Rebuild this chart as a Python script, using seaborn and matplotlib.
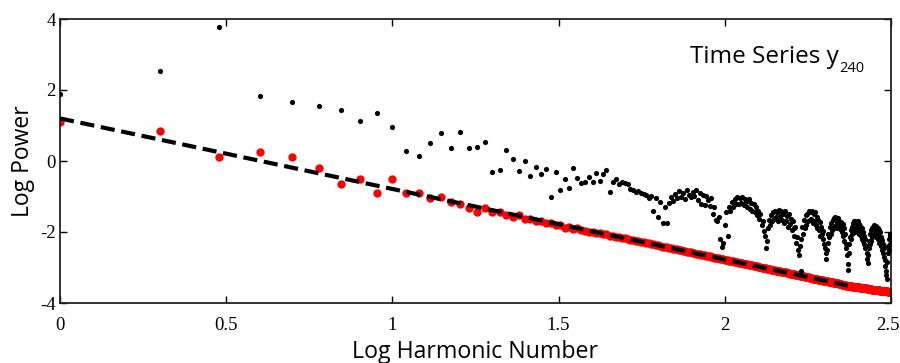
import numpy as np
import pandas as pd
import matplotlib
matplotlib.use("Agg")
import matplotlib.pyplot as plt
import matplotlib.transforms as mtransforms
import seaborn as sns

# Harmonic numbers (x axis shows log10 of these)
harmonic = list(range(1, 317))

# Log power of the time series (black dots)
black_power = [
    1.90, 2.54, 3.77, 1.83, 1.66, 1.55, 1.44, 1.13, 1.35, 0.97,
    0.28, 0.14, 0.51, 0.79, 0.37, 0.83, 0.37, 0.39, 0.54, -0.31,
    -0.25, 0.31, 0.06, -0.27, 0.00, -0.42, -0.17, -0.36, -0.23, -1.00,
    -0.30, -0.82, -0.51, -0.77, -0.20, -0.47, -0.62, -0.60, -0.44, -0.59,
    -0.33, -0.57, -0.36, -0.26, -0.86, -0.58, -0.51, -0.64, -0.58, -0.63,
    -0.66, -0.80, -0.83, -0.86, -0.84, -0.90, -0.93, -0.97, -1.05, -0.98,
    -1.40, -1.05, -1.57, -1.15, -1.75, -1.30, -1.76, -1.19, -1.02, -1.12,
    -0.92, -1.05, -0.85, -1.00, -0.90, -1.08, -0.83, -0.95, -1.02, -0.86,
    -0.98, -0.82, -1.10, -0.90, -1.20, -0.95, -1.25, -0.98, -1.10, -1.28,
    -1.05, -1.48, -1.30, -1.66, -1.70, -1.58, -2.20, -2.42, -2.30, -1.80,
    -1.45, -2.10, -1.30, -1.42, -1.15, -1.30, -1.08, -1.22, -1.02, -1.20,
    -1.05, -1.18, -1.00, -1.25, -1.08, -1.15, -1.30, -1.06, -1.35, -1.18,
    -1.40, -1.22, -1.45, -1.30, -1.52, -1.40, -1.62, -1.50, -1.80, -1.70,
    -1.98, -2.10, -2.45, -2.25, -1.90, -1.65, -1.80, -1.52, -1.70, -1.45,
    -1.62, -1.40, -1.58, -1.45, -1.70, -1.38, -1.55, -1.42, -1.65, -1.48,
    -1.75, -1.42, -1.68, -1.55, -1.85, -1.50, -1.78, -1.62, -1.95, -1.70,
    -1.90, -2.10, -1.85, -2.30, -2.15, -2.50, -2.65, -2.40, -2.20, -3.10,
    -1.85, -2.05, -1.65, -1.90, -1.52, -1.80, -1.48, -1.70, -1.42, -1.65,
    -1.45, -1.62, -1.40, -1.75, -1.50, -1.68, -1.45, -1.80, -1.58, -1.90,
    -1.65, -1.95, -1.72, -2.10, -1.85, -2.05, -2.20, -1.98, -2.35, -2.45,
    -2.60, -2.75, -2.50, -2.30, -2.05, -2.15, -1.85, -2.05, -1.75, -1.95,
    -1.65, -1.88, -1.60, -1.82, -1.58, -1.90, -1.65, -1.75, -1.60, -1.85,
    -1.68, -1.92, -1.72, -1.80, -2.00, -1.78, -2.10, -1.88, -2.25, -2.05,
    -2.35, -2.45, -2.65, -2.90, -3.08, -2.60, -2.35, -2.15, -1.95, -2.20,
    -1.85, -2.05, -1.75, -1.95, -1.70, -2.00, -1.68, -1.85, -1.72, -1.95,
    -1.70, -1.90, -1.78, -2.05, -1.82, -1.95, -2.10, -1.88, -2.20, -2.00,
    -2.25, -2.10, -2.35, -2.20, -2.45, -2.40, -2.60, -2.75, -2.88, -2.65,
    -2.45, -2.25, -2.35, -2.05, -2.25, -1.95, -2.15, -1.88, -2.10, -1.85,
    -2.05, -1.80, -1.98, -1.85, -2.15, -1.82, -2.00, -1.90, -2.20, -1.95,
    -2.10, -2.30, -2.00, -2.25, -2.15, -2.40, -2.22, -2.50, -2.35, -2.60,
    -2.45, -2.70, -2.80, -2.95, -3.10, -3.22, -3.32, -2.85, -2.60, -2.40,
    -2.20, -2.50, -2.10, -2.35, -2.05, -2.30,
]

# Log power of the second (red) series
red_power = [
    1.10, 0.85, 0.10, 0.25, 0.10, -0.20, -0.65, -0.50, -0.90, -0.50,
    -0.90, -0.90, -1.04, -1.01, -1.15, -1.21, -1.33, -1.45, -1.33, -1.43,
    -1.44, -1.52, -1.58, -1.52, -1.64, -1.62, -1.69, -1.70, -1.76, -1.74,
    -1.80, -1.79, -1.90, -1.86, -1.92, -1.90, -1.95, -1.96, -2.00, -1.99,
    -2.03, -2.04, -2.07, -2.07, -2.11, -2.11, -2.14, -2.15, -2.17, -2.18,
    -2.20, -2.22, -2.23, -2.25, -2.26, -2.28, -2.29, -2.31, -2.32, -2.34,
    -2.35, -2.37, -2.38, -2.39, -2.41, -2.42, -2.43, -2.44, -2.46, -2.47,
    -2.48, -2.49, -2.50, -2.52, -2.53, -2.54, -2.55, -2.56, -2.57, -2.59,
    -2.60, -2.61, -2.62, -2.63, -2.64, -2.65, -2.66, -2.67, -2.68, -2.69,
    -2.70, -2.71, -2.72, -2.73, -2.74, -2.74, -2.75, -2.76, -2.77, -2.78,
    -2.79, -2.80, -2.81, -2.82, -2.82, -2.83, -2.84, -2.85, -2.85, -2.86,
    -2.87, -2.88, -2.88, -2.89, -2.90, -2.91, -2.91, -2.92, -2.93, -2.94,
    -2.94, -2.95, -2.96, -2.96, -2.97, -2.98, -2.98, -2.99, -3.00, -3.01,
    -3.01, -3.02, -3.02, -3.03, -3.04, -3.04, -3.05, -3.06, -3.06, -3.07,
    -3.07, -3.08, -3.09, -3.09, -3.10, -3.10, -3.11, -3.12, -3.12, -3.13,
    -3.13, -3.14, -3.14, -3.15, -3.16, -3.16, -3.17, -3.17, -3.18, -3.18,
    -3.19, -3.19, -3.20, -3.20, -3.21, -3.21, -3.22, -3.23, -3.23, -3.24,
    -3.24, -3.25, -3.25, -3.26, -3.26, -3.27, -3.27, -3.28, -3.28, -3.29,
    -3.29, -3.30, -3.30, -3.31, -3.31, -3.31, -3.32, -3.32, -3.33, -3.33,
    -3.34, -3.34, -3.35, -3.35, -3.35, -3.36, -3.36, -3.37, -3.37, -3.38,
    -3.38, -3.38, -3.39, -3.39, -3.40, -3.40, -3.41, -3.41, -3.41, -3.42,
    -3.42, -3.43, -3.43, -3.43, -3.44, -3.44, -3.45, -3.45, -3.45, -3.46,
    -3.46, -3.47, -3.47, -3.47, -3.48, -3.48, -3.49, -3.49, -3.49, -3.50,
    -3.50, -3.51, -3.51, -3.51, -3.52, -3.52, -3.52, -3.52, -3.53, -3.53,
    -3.53, -3.54, -3.54, -3.54, -3.55, -3.55, -3.55, -3.55, -3.56, -3.56,
    -3.55, -3.56, -3.56, -3.56, -3.57, -3.57, -3.57, -3.57, -3.58, -3.58,
    -3.58, -3.58, -3.58, -3.59, -3.59, -3.59, -3.59, -3.60, -3.60, -3.60,
    -3.60, -3.60, -3.61, -3.61, -3.61, -3.61, -3.62, -3.62, -3.62, -3.62,
    -3.62, -3.62, -3.63, -3.63, -3.63, -3.63, -3.63, -3.64, -3.64, -3.64,
    -3.64, -3.64, -3.65, -3.65, -3.65, -3.65, -3.65, -3.66, -3.66, -3.66,
    -3.66, -3.66, -3.66, -3.67, -3.67, -3.67, -3.67, -3.67, -3.68, -3.68,
    -3.68, -3.68, -3.68, -3.68, -3.69, -3.69,
]

# Fitted power-law line (dashed), endpoints
fit_x = [0.0, 2.37]
fit_y = [1.20, -3.51]

x_ticks = [0, 0.5, 1, 1.5, 2, 2.5]
x_tick_labels = ["0", "0.5", "1", "1.5", "2", "2.5"]
y_ticks = [-4, -2, 0, 2, 4]
y_tick_labels = ["-4", "-2", "0", "2", "4"]

df = pd.DataFrame({
    "log_k": np.log10(harmonic),
    "black": black_power,
    "red": red_power,
})
fit_df = pd.DataFrame({"x": fit_x, "y": fit_y})

sns.set_theme(style="ticks")
plt.rcParams["font.family"] = ["Open Sans", "DejaVu Sans"]

fig = plt.figure(figsize=(9, 3.63), dpi=100)
ax = fig.add_axes([60 / 900, 1 - 303 / 363, 831 / 900, 284 / 363])

sns.scatterplot(data=df, x="log_k", y="red", color="#ff0000", s=36,
                linewidth=0, ax=ax, zorder=2)
sns.lineplot(data=fit_df, x="x", y="y", color="black", linewidth=3.0,
             ax=ax, zorder=3)
ax.lines[-1].set_linestyle((0, (3.4, 1.6)))
ax.lines[-1].set_dash_capstyle("butt")
sns.scatterplot(data=df, x="log_k", y="black", color="black", s=14,
                linewidth=0, ax=ax, zorder=4)

ax.set_xlim(0, 2.5)
ax.set_ylim(-4, 4)
ax.set_xticks(x_ticks)
ax.set_xticklabels(x_tick_labels)
ax.set_yticks(y_ticks)
ax.set_yticklabels(y_tick_labels)
ax.tick_params(direction="in", top=True, right=True, length=5, width=1.0,
               labelsize=13.5, colors="black",
               labelfontfamily="Liberation Serif")
ax.tick_params(axis="x", pad=10)
ax.tick_params(axis="y", pad=3)

# nudge the last x tick label inward so it stays inside the figure
last = ax.get_xticklabels()[-1]
last.set_transform(last.get_transform() +
                   mtransforms.ScaledTranslation(-3 / 100, 0, fig.dpi_scale_trans))

for sp in ax.spines.values():
    sp.set_linewidth(1.3)
    sp.set_color("#222222")

ax.set_xlabel("Log Harmonic Number", fontsize=16.7, labelpad=4.5, color="black")
ax.set_ylabel("Log Power", fontsize=16.5, labelpad=4, color="black")

main = ax.text(1.895, 2.76, "Time Series y", fontsize=17.5,
               ha="left", va="baseline", color="black")
ax.annotate("240", xy=(1, 0), xycoords=main, xytext=(0.5, -2.5),
            textcoords="offset points", fontsize=10.5,
            ha="left", va="baseline", color="black")

fig.savefig("out.png", dpi=100)
